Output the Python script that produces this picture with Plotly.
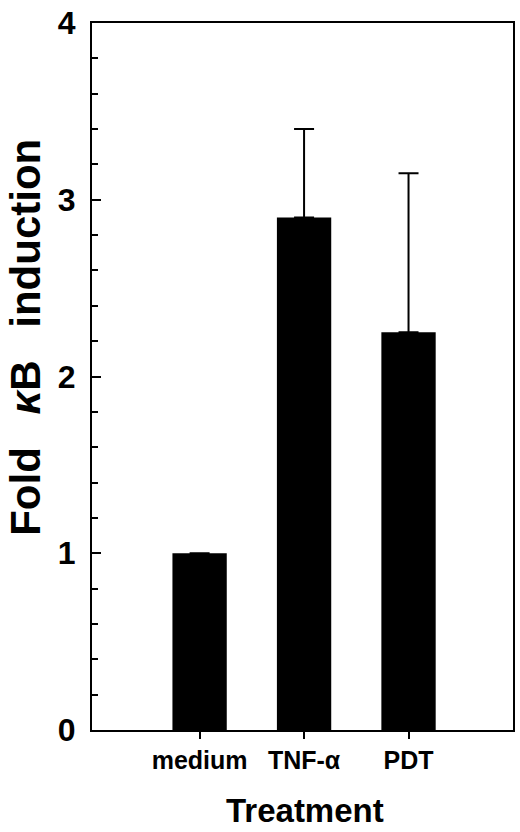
import plotly.graph_objects as go

treatments = ["medium", "TNF-α", "PDT"]
fold_kb = [1.0, 2.9, 2.25]
err_up = [0.0, 0.5, 0.9]
y_ticks = [0, 1, 2, 3, 4]

sans = "Liberation Sans, Arial, Helvetica, sans-serif"

fig = go.Figure()
fig.add_bar(x=treatments, y=fold_kb, width=0.52,
            marker=dict(color="black", line=dict(width=0)),
            error_y=dict(type="data", symmetric=False, array=err_up,
                         arrayminus=[0, 0, 0], color="black",
                         thickness=2, width=10))

fig.update_layout(
    width=520, height=832,
    margin=dict(l=92, r=5, t=14, b=102),
    plot_bgcolor="white", paper_bgcolor="white",
    showlegend=False,
    xaxis=dict(range=[-1.03, 3.0], showline=True, linewidth=2, linecolor="black",
               mirror=True, ticks="outside", ticklen=7, tickwidth=2,
               tickcolor="black", showgrid=False, tickangle=0,
               tickfont=dict(family=sans, size=25, color="black", weight="bold")),
    yaxis=dict(range=[0, 4.0001], tickvals=y_ticks, showline=True, linewidth=2,
               linecolor="black", mirror=True, ticks="inside", ticklen=9,
               tickwidth=2, tickcolor="black", showgrid=False, zeroline=False,
               ticklabelstandoff=8, ticklabeloverflow="allow",
               minor=dict(dtick=0.2, ticks="inside", ticklen=6, tickwidth=2,
                          tickcolor="black", showgrid=False),
               tickfont=dict(family=sans, size=32, color="black", weight="bold")),
    annotations=[
        dict(text="Fold\u2002 <i>κ</i>B\u2002 induction", xref="paper", yref="paper",
             x=-0.157, y=0.556, xanchor="center", yanchor="middle",
             textangle=-90, showarrow=False,
             font=dict(family=sans, size=42, color="black", weight="bold")),
        dict(text="Treatment", xref="paper", yref="paper",
             x=0.506, y=-0.1145, xanchor="center", yanchor="middle",
             showarrow=False,
             font=dict(family=sans, size=33, color="black", weight="bold")),
    ],
)

# drop the page's default body margin so the 520x832 figure fills the window
fig.write_html("out.html", config={"displayModeBar": False},
               post_script="document.body.style.margin='0';")
